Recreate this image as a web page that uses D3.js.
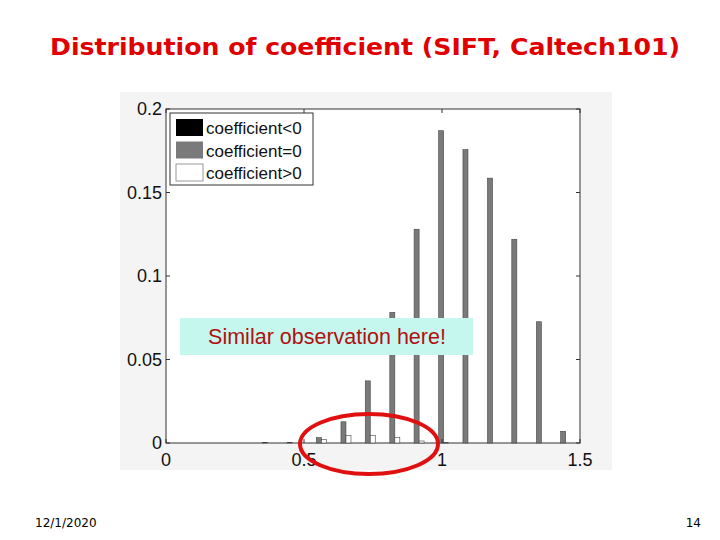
<!DOCTYPE html><html><head><script src="https://d3js.org/d3.v7.min.js"></script>
<style>body{margin:0;background:#fff}</style></head><body><svg id="c" width="720" height="540"></svg>
<script>
const bins=[0.377,0.466,0.554,0.643,0.731,0.82,0.908,0.997,1.085,1.174,1.262,1.351,1.439];
const negVals=[0.0003,0.0003,0,0,0,0,0,0,0,0,0,0,0];
const zeroVals=[0,0,0.0032,0.0127,0.0372,0.0782,0.128,0.187,0.1757,0.1586,0.122,0.0726,0.007];
const posVals=[0,0,0.002,0.0044,0.0046,0.0034,0.0012,0.0003,0,0,0,0,0];
const xTicks=[0,0.5,1,1.5], yTicks=[0,0.05,0.1,0.15,0.2];
const series=[{name:"coefficient<0",vals:negVals,fill:"#000"},{name:"coefficient=0",vals:zeroVals,fill:"#7a7a7a"},{name:"coefficient>0",vals:posVals,fill:"#fff"}];
const svg=d3.select("#c");
svg.append("rect").attr("x",120).attr("y",92).attr("width",492).attr("height",378).attr("fill","#f4f4f4");
const x=d3.scaleLinear().domain([0,1.5]).range([166,580]);
const y=d3.scaleLinear().domain([0,0.2]).range([443,109]);
svg.append("rect").attr("x",166).attr("y",109).attr("width",414).attr("height",334).attr("fill","#fff").attr("stroke","#333");
const bw=5;
series.forEach((s,i)=>{
 svg.append("g").selectAll("rect").data(bins).join("rect")
  .attr("x",(d)=>x(d)+(i-1)*bw-bw/2).attr("width",bw)
  .attr("y",(d,j)=>y(s.vals[j])).attr("height",(d,j)=>y(0)-y(s.vals[j]))
  .attr("fill",s.fill).attr("stroke",(d,j)=>s.vals[j]>0?"#444":"none").attr("stroke-width",0.6);
});
const g=svg.append("g").attr("font-family","Arial, Liberation Sans").attr("font-size",18).attr("fill","#111");
xTicks.forEach(t=>{g.append("text").attr("x",x(t)).attr("y",466).attr("text-anchor","middle").text(t);
 svg.append("line").attr("x1",x(t)).attr("x2",x(t)).attr("y1",443).attr("y2",439).attr("stroke","#333");
 svg.append("line").attr("x1",x(t)).attr("x2",x(t)).attr("y1",109).attr("y2",113).attr("stroke","#333");});
yTicks.forEach(t=>{g.append("text").attr("x",162).attr("y",y(t)+6).attr("text-anchor","end").text(t);
 svg.append("line").attr("x1",166).attr("x2",170).attr("y1",y(t)).attr("y2",y(t)).attr("stroke","#333");
 svg.append("line").attr("x1",580).attr("x2",576).attr("y1",y(t)).attr("y2",y(t)).attr("stroke","#333");});
const lg=svg.append("g");
lg.append("rect").attr("x",170).attr("y",113).attr("width",143).attr("height",72).attr("fill","#fff").attr("stroke","#333");
series.forEach((s,i)=>{lg.append("rect").attr("x",176).attr("y",119+i*22.5).attr("width",27).attr("height",17).attr("fill",s.fill).attr("stroke",i==2?"#999":"none");
 lg.append("text").attr("x",206).attr("y",134+i*22.5).attr("font-family","Arial, Liberation Sans").attr("font-size",17).attr("fill","#111").text(s.name);});
svg.append("rect").attr("x",180).attr("y",318).attr("width",293).attr("height",37).attr("fill","#c6f7ef");
svg.append("text").attr("x",327).attr("y",344).attr("text-anchor","middle").attr("font-family","Arial, Liberation Sans").attr("font-size",21.5).attr("fill","#b01010").text("Similar observation here!");
svg.append("ellipse").attr("cx",369).attr("cy",444).attr("rx",69).attr("ry",30).attr("fill","none").attr("stroke","#e01010").attr("stroke-width",4);
svg.append("text").attr("x",365).attr("y",55).attr("text-anchor","middle").attr("font-family","Verdana, DejaVu Sans").attr("font-weight","bold").attr("font-size",23.5).attr("textLength",630).attr("lengthAdjust","spacingAndGlyphs").attr("fill","#e00000").text("Distribution of coefficient (SIFT, Caltech101)");
svg.append("text").attr("x",35).attr("y",527).attr("font-family","Verdana, DejaVu Sans").attr("font-size",12).text("12/1/2020");
svg.append("text").attr("x",701).attr("y",527).attr("text-anchor","end").attr("font-family","Verdana, DejaVu Sans").attr("font-size",12).text("14");
</script></body></html>
